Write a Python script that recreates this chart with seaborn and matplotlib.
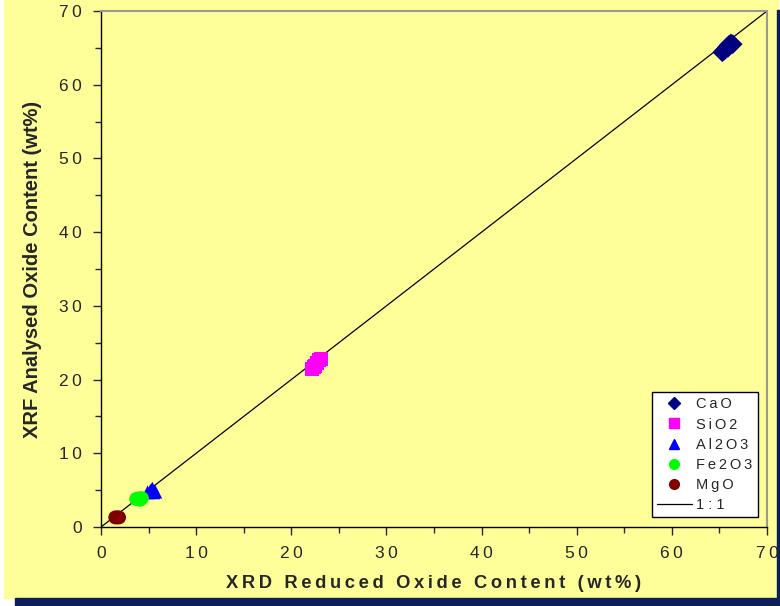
import pandas as pd
import matplotlib
matplotlib.use("Agg")
import matplotlib.pyplot as plt
from matplotlib.lines import Line2D
from matplotlib.patches import Rectangle
from matplotlib.ticker import MultipleLocator, FuncFormatter
import seaborn as sns

# values
cao_x = [65.3, 65.6, 65.8, 66.0, 66.2, 66.4, 65.9, 65.5]
cao_y = [64.4, 64.8, 65.1, 65.4, 65.6, 65.5, 65.0, 64.6]
sio2_x = [22.2, 22.5, 22.7, 22.9, 23.1, 22.4]
sio2_y = [21.4, 21.9, 22.3, 22.6, 22.8, 21.7]
al2o3_x = [4.9, 5.2, 5.4, 5.7, 5.3, 5.5]
al2o3_y = [4.7, 4.9, 5.2, 4.8, 5.0, 4.7]
fe2o3_x = [3.7, 4.0, 4.3, 4.1]
fe2o3_y = [3.8, 3.9, 3.9, 3.7]
mgo_x = [1.5, 1.7, 1.9]
mgo_y = [1.3, 1.3, 1.3]
one_to_one = [0, 70]

oxides = ["CaO", "SiO2", "Al2O3", "Fe2O3", "MgO"]
colors = {"CaO": "#000080", "SiO2": "#FF00FF", "Al2O3": "#0000FF",
          "Fe2O3": "#00FF00", "MgO": "#800000"}
markers = {"CaO": "D", "SiO2": "s", "Al2O3": "^", "Fe2O3": "o", "MgO": "o"}

frames = []
for name, xs, ys in zip(oxides, [cao_x, sio2_x, al2o3_x, fe2o3_x, mgo_x],
                        [cao_y, sio2_y, al2o3_y, fe2o3_y, mgo_y]):
    frames.append(pd.DataFrame({"xrd": xs, "xrf": ys, "oxide": name}))
df = pd.concat(frames, ignore_index=True)

yellow = "#FFFF99"
navy = "#0C1F5A"
THIN = "\u2009"


def spaced(text):
    # the original chart uses wide letter spacing
    return THIN.join(text)


sns.set_style("ticks")
plt.rcParams["font.family"] = ["Liberation Sans", "DejaVu Sans"]

fig = plt.figure(figsize=(7.8, 6.06), dpi=100, facecolor="white")
# page background and shadow
fig.patches.append(Rectangle((4 / 780, 8 / 606), 774 / 780, 598 / 606,
                             transform=fig.transFigure, color=yellow, zorder=-3))
fig.patches.append(Rectangle((15 / 780, 0), 765 / 780, 8 / 606,
                             transform=fig.transFigure, color=navy, zorder=-2))
fig.patches.append(Rectangle((777 / 780, 0), 3 / 780, 596 / 606,
                             transform=fig.transFigure, color=navy, zorder=-2))

ax = fig.add_axes([101 / 780, (606 - 527) / 606, 666 / 780, 516 / 606])
ax.set_facecolor(yellow)

sns.lineplot(x=one_to_one, y=one_to_one, ax=ax, color="black", lw=0.9, zorder=1)
sns.scatterplot(data=df, x="xrd", y="xrf", hue="oxide", style="oxide",
                palette=colors, markers=markers, s=100, linewidth=0,
                ax=ax, legend=False, zorder=3)

ax.set_xlim(0, 70)
ax.set_ylim(0, 70)
ax.xaxis.set_major_locator(MultipleLocator(10))
ax.yaxis.set_major_locator(MultipleLocator(10))
ax.xaxis.set_minor_locator(MultipleLocator(5))
ax.yaxis.set_minor_locator(MultipleLocator(5))
ax.xaxis.set_major_formatter(FuncFormatter(lambda v, p: spaced(f"{v:.0f}")))
ax.yaxis.set_major_formatter(FuncFormatter(lambda v, p: spaced(f"{v:.0f}")))
ax.tick_params(which="major", direction="out", length=6, width=1, labelsize=12.5,
               pad=8)
ax.tick_params(which="minor", direction="out", length=4, width=1)

for side in ["left", "bottom"]:
    ax.spines[side].set_color("black")
    ax.spines[side].set_linewidth(1)
for side in ["top", "right"]:
    ax.spines[side].set_color("#999999")
    ax.spines[side].set_linewidth(1.5)

ax.set_xlabel(spaced("XRD Reduced Oxide Content (wt%)"), fontsize=13.2,
              fontweight="bold", labelpad=10)
ax.set_ylabel("XRF Analysed Oxide Content (wt%)", fontsize=14.5,
              fontweight="bold", labelpad=12)

handles = [Line2D([], [], ls="none", marker=markers[o], color=colors[o],
                  markersize=7 if o != "CaO" else 6) for o in oxides]
handles.append(Line2D([], [], color="black", lw=0.9))
labels = [spaced(t) for t in ["CaO", "SiO2", "Al2O3", "Fe2O3", "MgO"]]
labels.append("1 : 1")
leg = ax.legend(handles, labels, loc="lower right",
                bbox_to_anchor=(0.986, 0.019), fontsize=10.5, frameon=True,
                fancybox=False, edgecolor="black", facecolor="white",
                framealpha=1, borderpad=0.35, labelspacing=0.42,
                handlelength=2.4, handletextpad=0.3, borderaxespad=0)
leg.get_frame().set_linewidth(1)

fig.savefig("out.png", dpi=100, facecolor=fig.get_facecolor())
